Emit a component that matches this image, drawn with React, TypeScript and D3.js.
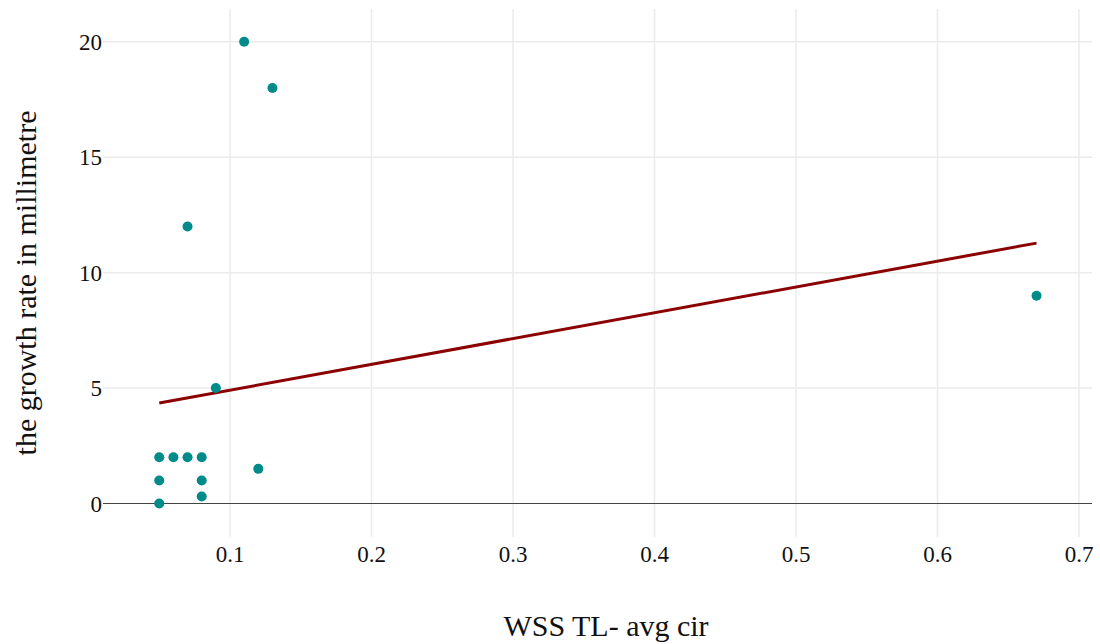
import React from "react";
import * as d3 from "d3";

const xValues = [0.05, 0.06, 0.07, 0.08, 0.05, 0.08, 0.08, 0.05, 0.12, 0.09, 0.07, 0.11, 0.13, 0.67];
const yValues = [2, 2, 2, 2, 1, 1, 0.3, 0, 1.5, 5, 12, 20, 18, 9];
const fitX = [0.05, 0.67];
const fitY = [4.35, 11.28];
const xTicks = [0.1, 0.2, 0.3, 0.4, 0.5, 0.6, 0.7];
const yTicks = [0, 5, 10, 15, 20];

const W = 1100;
const H = 644;
const left = 103;
const right = 1092;
const top = 9;
const bottom = 537;

export default function App() {
  const x = d3.scaleLinear().domain([0.1, 0.7]).range([230, 1079]);
  const y = d3.scaleLinear().domain([0, 20]).range([503.5, 41.8]);
  const line = d3
    .line<number>()
    .x((d) => x(d))
    .y((_, i) => y(fitY[i]));
  const font = "'Liberation Serif', 'Times New Roman', serif";
  return (
    <svg width={W} height={H} style={{ position: "absolute", left: 0, top: 0, background: "#fff" }}>
      {yTicks.filter((t) => t !== 0).map((t) => (
        <line key={"gy" + t} x1={left} x2={right} y1={y(t)} y2={y(t)} stroke="#ebebeb" strokeWidth={1.5} />
      ))}
      {xTicks.map((t) => (
        <line key={"gx" + t} x1={x(t)} x2={x(t)} y1={top} y2={bottom} stroke="#ebebeb" strokeWidth={1.5} />
      ))}
      <line x1={left} x2={right} y1={y(0)} y2={y(0)} stroke="#444" strokeWidth={1.2} />
      <path d={line(fitX) || ""} fill="none" stroke="#8b0000" strokeWidth={3} />
      {xValues.map((xv, i) => (
        <circle key={i} cx={x(xv)} cy={y(yValues[i])} r={5} fill="#008b8b" />
      ))}
      {xTicks.map((t) => (
        <text key={"tx" + t} x={x(t)} y={562} textAnchor="middle" fontFamily={font} fontSize={23} fill="#111">
          {t}
        </text>
      ))}
      {yTicks.map((t) => (
        <text key={"ty" + t} x={102} y={y(t) + 8} textAnchor="end" fontFamily={font} fontSize={23} fill="#111">
          {t}
        </text>
      ))}
      <text x={606} y={636} textAnchor="middle" fontFamily={font} fontSize={30} fill="#111">
        WSS TL- avg cir
      </text>
      <text
        transform={`translate(36, 283) rotate(-90)`}
        textAnchor="middle"
        fontFamily={font}
        fontSize={30}
        fill="#111"
      >
        the growth rate in millimetre
      </text>
    </svg>
  );
}
